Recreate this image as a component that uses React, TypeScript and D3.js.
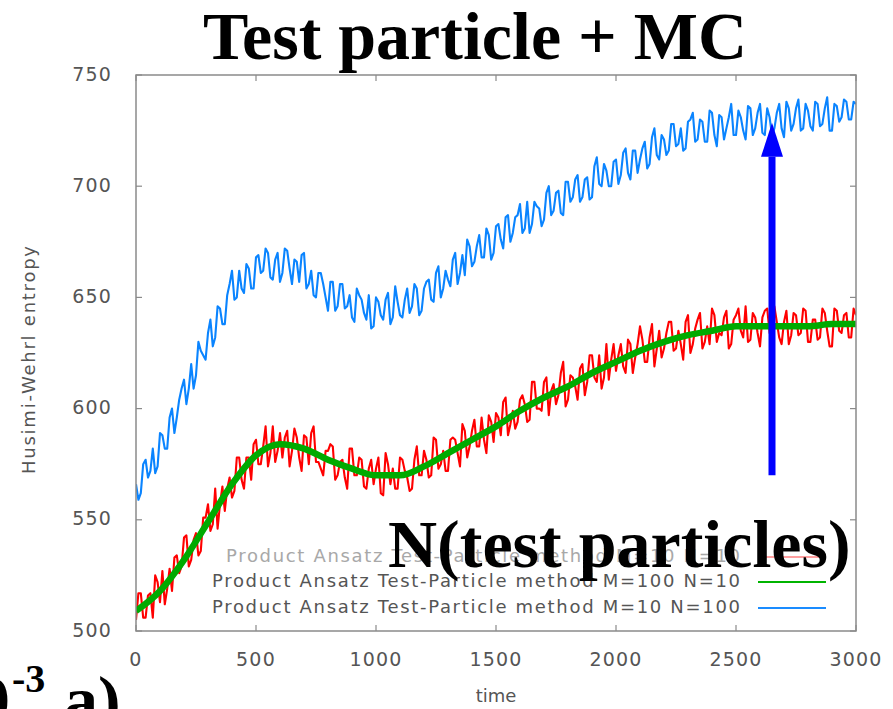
import React from "react";
import * as d3 from "d3";

// ---- data (sampled every 10 time units) ----
const sampleTimes = d3.range(0, 3001, 10);
const redValues = [
  505,517,517,506,506,516,517,506,525,522,
  513,527,512,519,528,518,533,534,526,529,
  542,543,529,532,541,544,534,536,551,551,
  557,545,548,564,546,557,565,554,564,569,
  560,563,578,578,568,564,578,578,568,584,
  586,575,575,583,592,574,580,592,576,581,
  589,578,587,590,574,581,591,587,578,572,
  588,587,575,589,592,576,576,573,570,581,
  581,584,583,568,570,576,577,569,564,582,
  582,570,570,578,577,565,564,573,577,566,
  573,578,562,561,580,575,566,573,564,564,
  578,577,572,569,563,564,577,583,570,570,
  581,577,569,570,587,586,573,575,581,572,
  572,586,587,586,580,574,593,590,578,583,
  590,595,583,583,596,586,580,597,594,585,
  598,596,588,603,605,588,593,599,591,594,
  604,606,602,594,595,612,612,600,600,599,
  612,614,597,608,611,602,606,616,621,601,
  604,615,614,610,604,618,620,606,612,624,
  624,614,612,624,609,614,629,613,622,629,
  617,624,629,619,616,631,629,616,623,629,
  637,631,621,621,632,638,619,627,635,623,
  627,634,639,639,626,627,635,629,622,639,
  642,625,629,636,640,643,627,630,637,629,
  645,642,630,634,633,641,644,627,629,640,
  642,645,635,632,646,630,631,643,641,634,
  628,641,644,645,634,631,646,639,632,629,
  639,644,629,633,643,642,633,634,645,644,
  630,630,640,640,631,632,645,643,635,628,
  628,645,644,635,634,642,643,632,632,645,
  642,
];
const blueValues = [
  566,559,562,575,577,569,572,582,571,574,
  589,588,582,582,596,600,589,596,604,609,
  613,602,609,620,609,615,630,626,624,622,
  634,640,628,632,646,645,638,638,651,656,
  662,649,650,662,654,652,665,663,654,654,
  668,669,661,662,672,670,659,658,667,670,
  657,661,672,671,663,656,667,666,657,669,
  670,654,656,662,651,650,661,661,656,650,
  644,657,657,644,646,656,656,645,646,651,
  641,639,654,651,649,643,640,651,636,637,
  650,648,642,640,649,652,638,641,655,648,
  642,641,649,654,643,646,656,654,642,644,
  654,657,658,649,648,661,664,650,654,662,
  658,655,667,670,656,661,669,660,676,673,
  664,666,673,678,668,668,681,678,667,670,
  682,683,676,672,686,687,675,679,686,687,
  692,679,681,693,679,683,693,691,690,682,
  685,697,700,687,689,697,698,688,687,702,
  702,693,695,703,705,693,695,703,704,694,
  695,709,713,701,700,710,707,700,700,711,
  712,701,705,715,717,706,703,716,716,706,
  712,717,720,708,710,722,726,714,712,723,
  721,714,716,728,728,718,719,726,716,717,
  729,730,733,720,721,730,729,720,720,734,
  733,723,718,732,731,721,726,731,737,723,
  723,734,731,725,721,736,735,723,726,733,
  737,724,723,735,731,723,726,733,737,726,
  722,738,735,725,728,735,739,725,726,737,
  734,727,725,738,737,727,728,735,740,725,
  725,737,736,729,731,739,738,730,730,738,
  737,
];
const greenTimes = d3.range(0, 3001, 100);
const greenValues = [
  509,518,532,549,566,579,584,582,577,573,570,570,574,580,586,592,
  599,605,610,616,621,626,630,633,635,637,637,637,637,638,638,
];
const xTicks = [0, 500, 1000, 1500, 2000, 2500, 3000];
const yTicks = [500, 550, 600, 650, 700, 750];
const legendLabels = [
  "Product Ansatz Test-Particle method M=10 N=10",
  "Product Ansatz Test-Particle method M=100 N=10",
  "Product Ansatz Test-Particle method M=10 N=100",
];
const arrowTime = 2650;
const arrowFrom = 570;
const arrowTo = 728.5;

const W = 893, H = 709;
const L = 136, R = 856, T = 75, B = 631;

export default function App() {
  const x = d3.scaleLinear().domain([0, 3000]).range([L, R]);
  const y = d3.scaleLinear().domain([500, 750]).range([B, T]);
  const noisy = d3.line<number>().x((_, i) => x(sampleTimes[i])).y((d) => y(d));
  const smooth = d3
    .line<number>()
    .x((_, i) => x(greenTimes[i]))
    .y((d) => y(d))
    .curve(d3.curveMonotoneX);

  const sans = "'DejaVu Sans', sans-serif";
  const serif = "'Liberation Serif', 'Times New Roman', serif";
  const grayText = "#555";
  const frame = "#8a8a8a";

  const ax = x(arrowTime);
  const headBase = y(arrowTo) + 34;

  const legendColors = ["#ffa0a0", "#00b400", "#1a8cff"];
  const legendText = ["#a8a8a8", grayText, grayText];
  const legendY = [557, 582, 608];
  const legendStarts = [226, 212, 212];

  return (
    <svg width={W} height={H} style={{ position: "absolute", left: 0, top: 0, background: "#fff" }}>
      <rect x={0} y={0} width={W} height={H} fill="#fff" />
      <defs>
        <clipPath id="plotclip">
          <rect x={L} y={T} width={R - L} height={B - T} />
        </clipPath>
      </defs>
      {/* series */}
      <g clipPath="url(#plotclip)">
        <path d={noisy(redValues) ?? ""} fill="none" stroke="#ff0000" strokeWidth={2.1} strokeLinejoin="round" />
        <path d={smooth(greenValues) ?? ""} fill="none" stroke="#00aa00" strokeWidth={6.5} />
        <path d={noisy(blueValues) ?? ""} fill="none" stroke="#0a84ff" strokeWidth={2.1} strokeLinejoin="round" />
      </g>
      {/* frame */}
      <rect x={L} y={T} width={R - L} height={B - T} fill="none" stroke={frame} strokeWidth={1.5} />
      {xTicks.map((t) => (
        <g key={"xt" + t}>
          <line x1={x(t)} x2={x(t)} y1={B} y2={B - 6} stroke={frame} strokeWidth={1.2} />
          <line x1={x(t)} x2={x(t)} y1={T} y2={T + 6} stroke={frame} strokeWidth={1.2} />
          <text x={x(t)} y={660} textAnchor="middle" dominantBaseline="middle" fontFamily={sans} fontSize={19} letterSpacing={1.2} fill={grayText}>
            {t}
          </text>
        </g>
      ))}
      {yTicks.map((v) => (
        <g key={"yt" + v}>
          <line x1={L} x2={L + 6} y1={y(v)} y2={y(v)} stroke={frame} strokeWidth={1.2} />
          <line x1={R} x2={R - 6} y1={y(v)} y2={y(v)} stroke={frame} strokeWidth={1.2} />
          <text x={112} y={y(v)} textAnchor="end" dominantBaseline="middle" fontFamily={sans} fontSize={19} letterSpacing={1.2} fill={grayText}>
            {v}
          </text>
        </g>
      ))}
      <text x={496} y={697} textAnchor="middle" dominantBaseline="middle" fontFamily={sans} fontSize={18} fill={grayText}>
        time
      </text>
      <text
        transform={`translate(30, 360) rotate(-90)`}
        textAnchor="middle"
        dominantBaseline="middle"
        fontFamily={sans}
        fontSize={18}
        textLength={228}
        lengthAdjust="spacing"
        fill={grayText}
      >
        Husimi-Wehrl entropy
      </text>
      {/* legend */}
      {legendLabels.map((lab, i) => (
        <g key={"lg" + i}>
          <text
            x={legendStarts[i]}
            y={legendY[i]}
            dominantBaseline="middle"
            fontFamily={sans}
            fontSize={18}
            textLength={740 - legendStarts[i]}
            lengthAdjust="spacing"
            fill={legendText[i]}
          >
            {lab}
          </text>
          <line x1={758} x2={826} y1={legendY[i]} y2={legendY[i]} stroke={legendColors[i]} strokeWidth={2} />
        </g>
      ))}
      {/* arrow */}
      <line x1={ax} x2={ax} y1={y(arrowFrom)} y2={headBase} stroke="#0000ff" strokeWidth={7} />
      <path d={`M${ax - 11},${headBase} L${ax + 11},${headBase} L${ax},${y(arrowTo)} Z`} fill="#0000ff" />
      {/* annotations */}
      <text x={475} y={59} textAnchor="middle" fontFamily={serif} fontWeight="bold" fontSize={68} fill="#000">
        Test particle + MC
      </text>
      <text x={388} y={567} fontFamily={serif} fontWeight="bold" fontSize={68} fill="#000">
        N(test particles)
      </text>
      <text x={10} y={723} textAnchor="end" fontFamily={serif} fontWeight="bold" fontSize={68} fill="#000">
        10
      </text>
      <text x={12} y={692} fontFamily={serif} fontWeight="bold" fontSize={40} fill="#000">
        -3
      </text>
      <text x={64} y={723} fontFamily={serif} fontWeight="bold" fontSize={68} fill="#000">
        a)
      </text>
    </svg>
  );
}
